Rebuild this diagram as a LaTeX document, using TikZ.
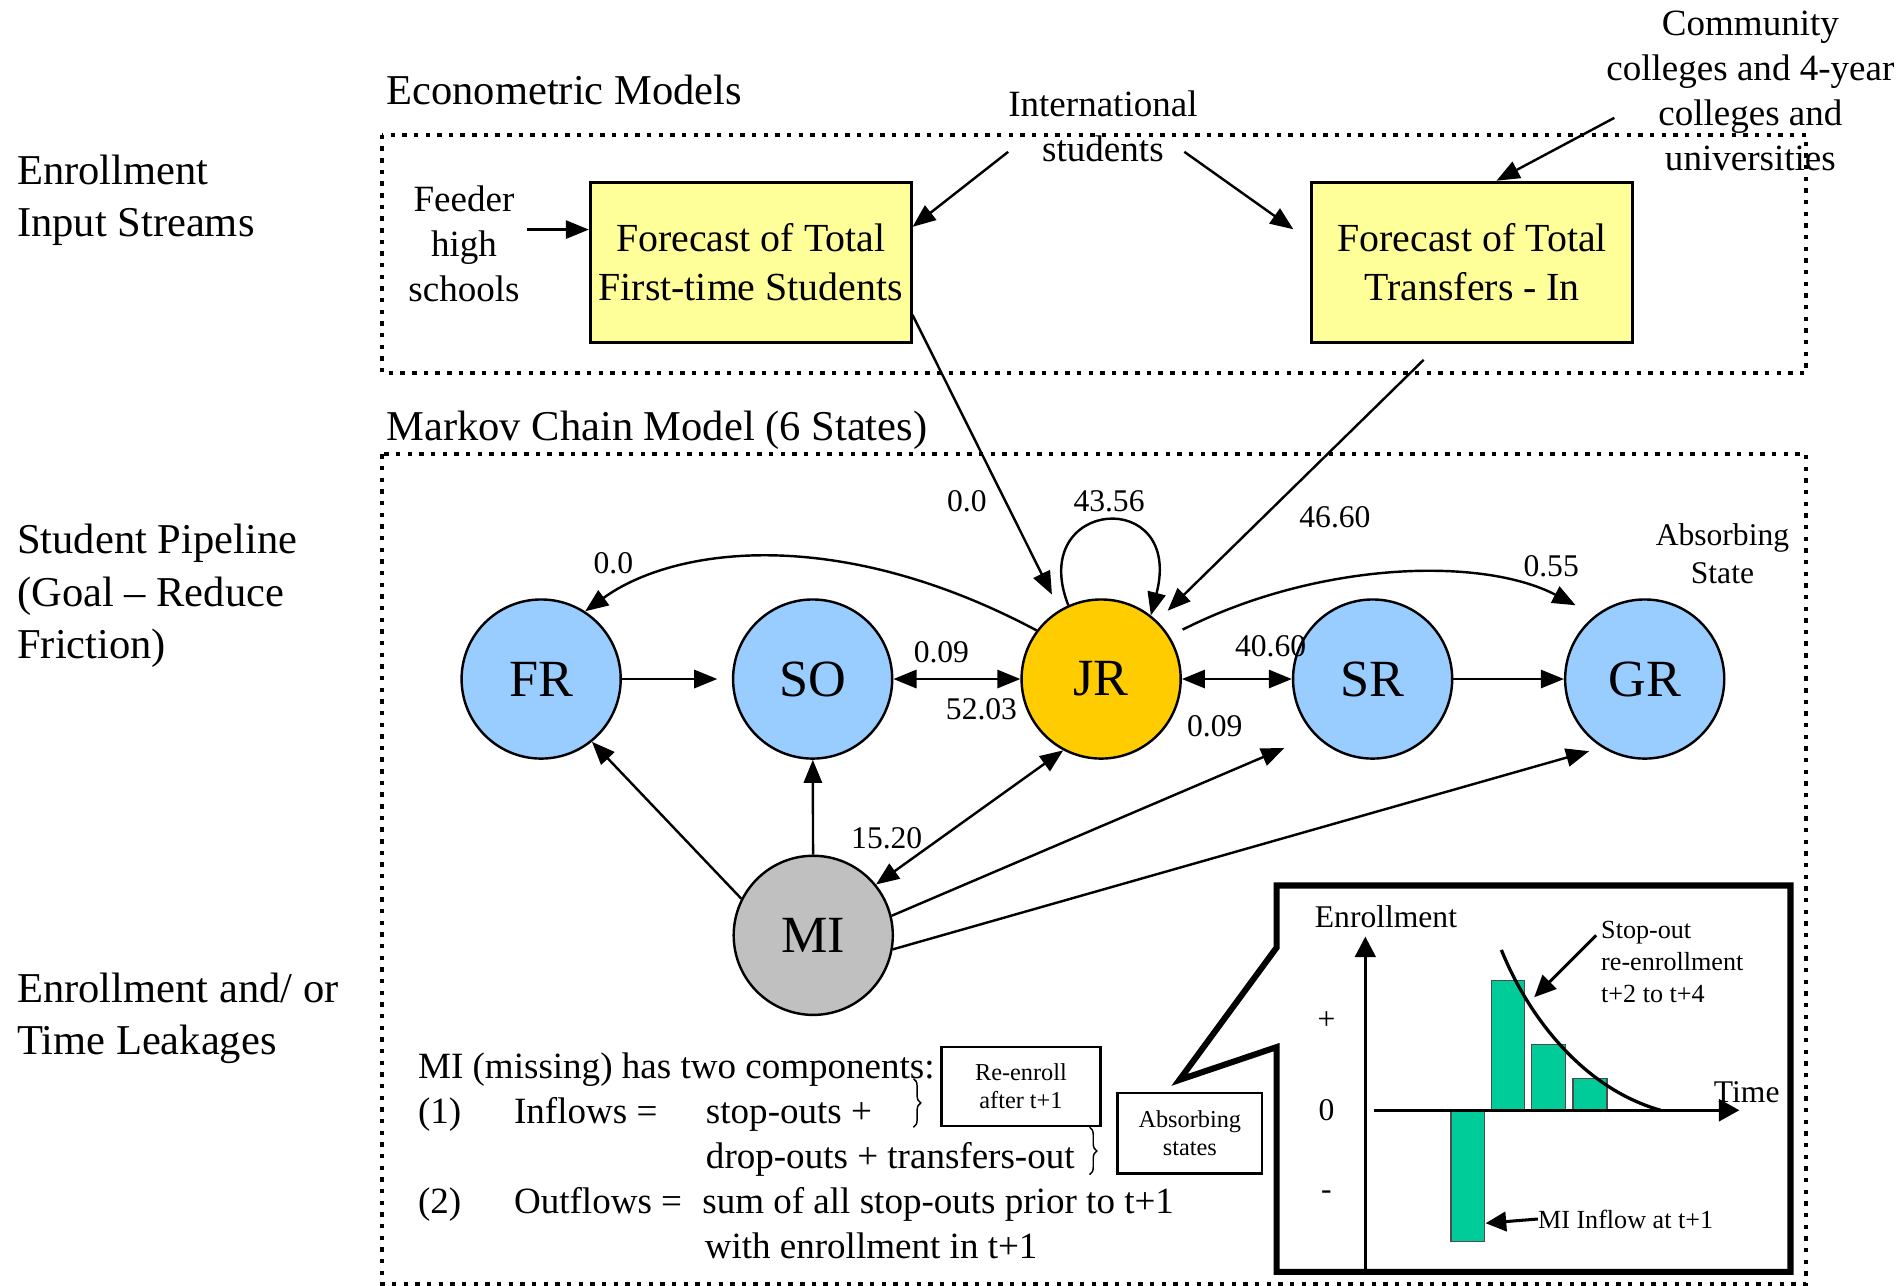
\documentclass[tikz,border=0pt]{standalone}
\usepackage{fontspec}
\setmainfont{Liberation Serif}
\usetikzlibrary{arrows.meta,calc,decorations.pathreplacing}
\definecolor{boxyellow}{HTML}{FFFF99}
\definecolor{stblue}{HTML}{99CCFF}
\definecolor{stgold}{HTML}{FFCC00}
\definecolor{stgray}{HTML}{C0C0C0}
\definecolor{barteal}{HTML}{00CC99}
\begin{document}
\begin{tikzpicture}[x=1pt,y=-1pt,
  txtbig/.style={font=\fontsize{35}{43}\selectfont, inner sep=0pt},
  txtmed/.style={font=\fontsize{30.5}{37}\selectfont, inner sep=0pt},
  txtlbl/.style={font=\fontsize{26}{31}\selectfont, inner sep=0pt},
  txtsmall/.style={font=\fontsize{20}{23}\selectfont, inner sep=0pt},
  txtchart/.style={font=\fontsize{21.5}{26}\selectfont, inner sep=0pt},
  stnode/.style={circle, draw, line width=2pt, minimum size=131pt, inner sep=0pt, font=\fontsize{43}{50}\selectfont},
  fbox/.style={draw, line width=2.5pt, fill=boxyellow, minimum width=264pt, minimum height=132pt, align=center, inner sep=0pt, font=\fontsize{32.8}{40}\selectfont},
  arr/.style={line width=2pt, -{Triangle[length=19pt,width=15pt]}},
  darr/.style={line width=2pt, {Triangle[length=19pt,width=15pt]}-{Triangle[length=19pt,width=15pt]}},
  dotbox/.style={line width=3.6pt, dash pattern=on 3.6pt off 6pt},
  smallbox/.style={draw, line width=2pt, align=center, txtsmall},
  brc/.style={decorate, decoration={brace, amplitude=6pt}, line width=1.2pt},
  chartline/.style={line width=2.7pt},
  bar/.style={fill=barteal, draw=black!70, line width=1pt}
]
\useasboundingbox (0,0) rectangle (1565,1058);

% left column (base anchor = last line)
\node[txtbig, anchor=base west, align=left] (lt1) at (14,195) {Enrollment\\Input Streams};
\node[txtbig, anchor=base west, align=left] (lt2) at (14,542) {Student Pipeline\\(Goal -- Reduce\\Friction)};
\node[txtbig, anchor=base west, align=left] (lt3) at (14,868) {Enrollment and/ or\\Time Leakages};

% titles
\node[txtbig, anchor=base west] (t1) at (318,86) {Econometric Models};
\node[txtbig, anchor=base west] (t2) at (318,363) {Markov Chain Model (6 States)};

% dotted boxes
\draw[dotbox] (314.5,111) rectangle (1487,307);
\draw[dotbox] (314.5,374) rectangle (1487,1057);

% yellow boxes
\node[fbox] (box1) at (618,216) {Forecast of Total\\First-time Students};
\node[fbox] (box2) at (1212,216) {Forecast of Total\\Transfers - In};

% input texts
\node[txtmed, anchor=base, align=center] (feeder) at (382,248) {Feeder\\high\\schools};
\node[txtmed, anchor=base, align=center] (intl) at (908,133) {International\\students};
\node[txtmed, anchor=base, align=center] (comm) at (1441,140) {Community\\colleges and 4-year\\colleges and\\universities};

\coordinate (fa) at (434,189);
\draw[arr] (fa) -- (box1.west |- fa);
\coordinate (ia) at (830,125);
\draw[arr] (ia) -- ($(box1.north east)+(0,38)$);
\coordinate (ib) at (975,125);
\draw[arr] (ib) -- ($(box2.north west)+(-14,40)$);
\coordinate (ca) at (1329,97);
\draw[arr] (ca) -- ($(box2.north)+(20,0)$);

% states
\node[stnode, fill=stblue] (FR) at (445.5,559) {FR};
\node[stnode, fill=stblue] (SO) at (669,559) {SO};
\node[stnode, fill=stgold] (JR) at (906.5,559) {JR};
\node[stnode, fill=stblue] (SR) at (1130,559) {SR};
\node[stnode, fill=stblue] (GR) at (1354,559) {GR};
\node[stnode, fill=stgray] (MI) at (669.5,770) {MI};

% inputs into JR
\draw[arr, shorten >=14pt] ($(box1.south east)+(0,-24)$) -- (JR.121);
\draw[arr, shorten >=12pt] ($(box2.south)+(-40,13)$) -- (JR.46);

% chain edges
\draw[arr, shorten >=12pt] (FR) -- (SO);
\draw[darr] (SO) -- (JR);
\draw[darr] (JR) -- (SR);
\draw[arr] (SR) -- (GR);
\draw[arr] (JR.143) .. controls (690,432) and (555,450) .. (FR.57);
\draw[arr] (JR.114) .. controls (845,410) and (975,400) .. (JR.52);
\draw[arr, shorten <=12pt, shorten >=18pt] (JR.32) .. controls (1085,462) and (1220,458) .. (GR.128);
\draw[arr] (MI.153) -- (FR.-51);
\draw[arr] (MI) -- (SO);
\draw[darr] (MI.39) -- (JR.242);
\draw[arr, shorten >=27pt] (MI.14) -- (SR.224);
\draw[arr, shorten >=11pt] (MI.-10) -- (GR.238);

% edge labels
\node[txtlbl] (l1) at (505,464) {0.0};
\node[txtlbl] (l2) at (913,413) {43.56};
\node[txtlbl] (l3) at (796,413) {0.0};
\node[txtlbl] (l4) at (1099,426) {46.60};
\node[txtlbl] (l5) at (1277,466) {0.55};
\node[txtlbl] (l6) at (775,537) {0.09};
\node[txtlbl] (l7) at (808,584) {52.03};
\node[txtlbl] (l8) at (1046,532) {40.60};
\node[txtlbl] (l9) at (1000,598) {0.09};
\node[txtlbl] (l10) at (730,690) {15.20};
\node[txtlbl, align=center, anchor=base] (abst) at (1418,480) {Absorbing\\State};

% MI description
\node[txtmed, anchor=base west] (d0) at (344,888) {MI (missing) has two components:};
\node[txtmed, anchor=base west] (d1a) at (344,925) {(1)};
\node[txtmed, anchor=base west] (d1b) at (423,925) {Inflows =};
\node[txtmed, anchor=base west] (d1c) at (581,925) {stop-outs +};
\node[txtmed, anchor=base west] (d1d) at (581,962) {drop-outs + transfers-out};
\node[txtmed, anchor=base west] (d2a) at (344,999) {(2)};
\node[txtmed, anchor=base west] (d2b) at (423,999) {Outflows =};
\node[txtmed, anchor=base west] (d2c) at (578,999) {sum of all stop-outs prior to t+1};
\node[txtmed, anchor=base west] (d2d) at (580,1036) {with enrollment in t+1};

\draw[brc] (752,888) -- (752,928);
\draw[brc] (897,928) -- (897,967);

\node[smallbox, minimum width=131pt, minimum height=65pt] (reb) at (840.5,894.5) {Re-enroll\\after t+1};
\node[smallbox, minimum width=119pt, minimum height=66pt] (absb) at (979.5,933) {Absorbing\\states};

% callout
\draw[line width=5pt, line join=miter, fill=white] (1051,729) -- (1474,729) -- (1474,1047) -- (1051,1047) -- (1051,862) -- (971,889) -- (1051,780) -- cycle;

% chart
\draw[bar] (1194.5,914) rectangle (1222,1022);
\draw[bar] (1228,807) rectangle (1255,914);
\draw[bar] (1261,860) rectangle (1289,914);
\draw[bar] (1295,888) rectangle (1323,914);
\coordinate (yb) at (1124,1048);
\coordinate (yt) at (1124,771);
\draw[chartline, -{Triangle[length=17pt,width=17pt]}] (yb) -- (yt);
\coordinate (xl) at (1131,914);
\coordinate (xr) at (1432,914);
\draw[chartline, -{Triangle[length=17pt,width=18pt]}] (xl) -- (xr);
\draw[chartline] (1236,782) .. controls (1256,832) and (1300,895) .. (1367,914);

\node[txtlbl] (ench) at (1141,755) {Enrollment};
\node[txtlbl] (tm) at (1438,899) {Time};
\node[txtlbl] (pl) at (1092,840) {+};
\node[txtlbl] (zr) at (1092,914) {0};
\node[txtlbl] (mn) at (1092,984) {-};

\node[txtchart, anchor=base west, align=left] (stp) at (1318,825) {Stop-out\\re-enrollment\\t+2 to t+4};
\coordinate (sa) at (1314,770);
\coordinate (sb) at (1263,821);
\draw[line width=2.5pt, -{Triangle[length=18pt,width=16pt]}] (sa) -- (sb);

\node[txtchart, anchor=base west] (mif) at (1266,1011) {MI Inflow at t+1};
\draw[line width=2.5pt, -{Triangle[length=17pt,width=16pt]}] (mif.west) -- (1223,1007);
\end{tikzpicture}
\end{document}
